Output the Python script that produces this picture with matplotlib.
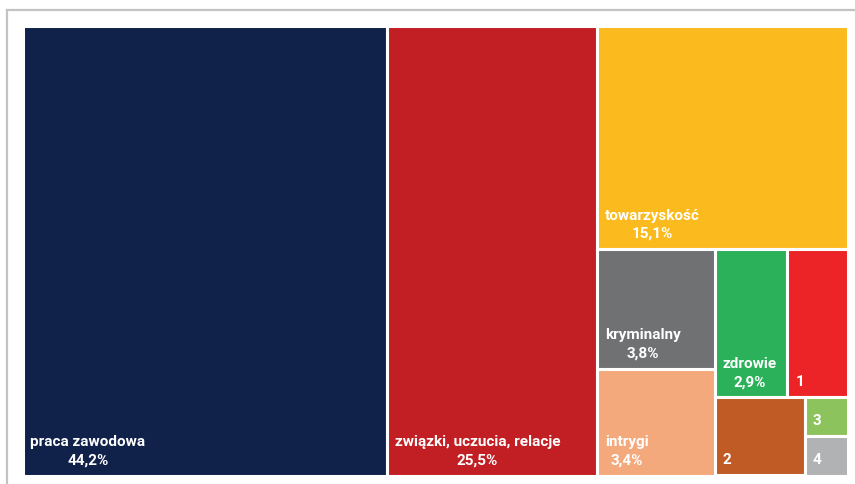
import matplotlib.pyplot as plt
from matplotlib.patches import Rectangle
from matplotlib.lines import Line2D

## data ##
nazwy = ['praca zawodowa', 'związki, uczucia, relacje', 'towarzyskość', 'kryminalny',
         'intrygi', 'zdrowie', '1', '2', '3', '4']
wartosci = [44.2, 25.5, 15.1, 3.8, 3.4, 2.9, 2.4, 1.9, 0.45, 0.45]
kolory = ['#11224a', '#c11f24', '#fbbb1f', '#6f7173', '#f4a97d',
          '#2ab15a', '#ed2427', '#c05b25', '#8dc35c', '#b0b2b3']
pokaz_proc = [True, True, True, True, True, True, False, False, False, False]

# nesting of tiles: 'h' splits left-to-right, 'v' splits top-to-bottom
uklad = ('h', [0, 1, ('v', [2, ('h', [('v', [3, 4]),
                                       ('v', [('h', [5, 6]),
                                              ('h', [7, ('v', [8, 9])])])])])])

rodzina = ['Roboto', 'DejaVu Sans']


def suma(wezel):
    if isinstance(wezel, int):
        return wartosci[wezel]
    return sum(suma(w) for w in wezel[1])


def rozloz(wezel, x0, y0, w, h, wynik):
    if isinstance(wezel, int):
        wynik[wezel] = (x0, y0, w, h)
        return
    kier, dzieci = wezel
    total = suma(wezel)
    pos = 0.0
    for d in dzieci:
        frac = suma(d) / total
        if kier == 'h':
            rozloz(d, x0 + pos * w, y0, frac * w, h, wynik)
        else:
            rozloz(d, x0, y0 + pos * h, w, frac * h, wynik)
        pos += frac


prostokaty = {}
rozloz(uklad, 0.0, 0.0, 1.0, 1.0, prostokaty)

W, H = 855, 484
fig = plt.figure(figsize=(W / 100, H / 100), dpi=100)
fig.patch.set_facecolor('white')

## outer frame (top and left edges only) ##
fig.add_artist(Line2D([7 / W, 1], [1 - 10 / H, 1 - 10 / H], color='#c3c3c3', lw=1.6))
fig.add_artist(Line2D([7 / W, 7 / W], [0, 1 - 10 / H], color='#c3c3c3', lw=1.6))

ax = fig.add_axes([22.5 / W, (H - 475.5) / H, 825 / W, 450 / H])
ax.set_xlim(0, 1)
ax.set_ylim(1, 0)
ax.axis('off')

for i, (x0, y0, w, h) in prostokaty.items():
    ax.add_patch(Rectangle((x0, y0), w, h, facecolor=kolory[i], edgecolor='white',
                           lw=2.2, clip_on=False))
    if pokaz_proc[i]:
        tekst = nazwy[i] + '\n' + f"{wartosci[i]:.1f}".replace('.', ',') + '%'
    else:
        tekst = nazwy[i]
    ax.annotate(tekst, (x0, y0 + h), xytext=(8, 8), textcoords='offset pixels',
                ha='left', va='bottom', multialignment='center', color='white',
                fontsize=11, fontweight='bold', family=rodzina, linespacing=1.4)

fig.savefig('out.png', dpi=100)
